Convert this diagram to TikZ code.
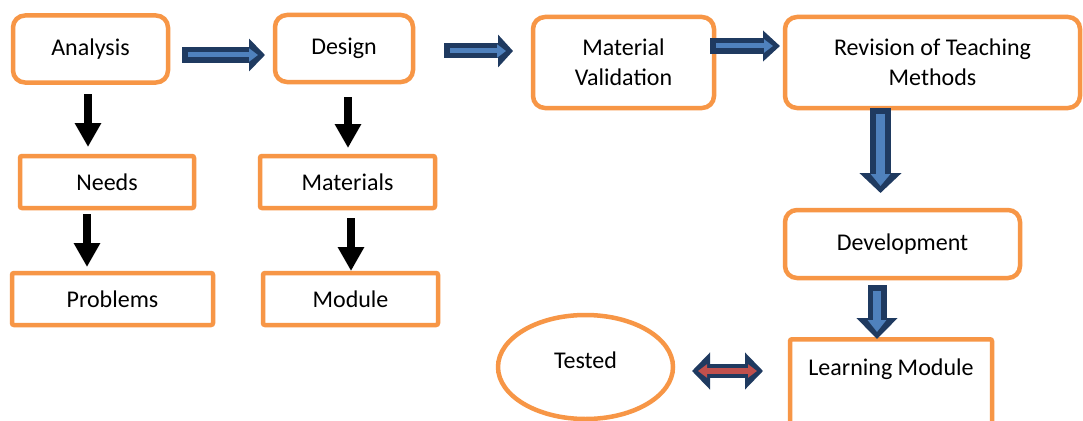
\documentclass[tikz,border=0pt]{standalone}
\usepackage{fontspec}
\setmainfont{Carlito}
\usetikzlibrary{arrows.meta,shapes.geometric}
\definecolor{orng}{HTML}{F79646}
\definecolor{navy}{HTML}{1F3A60}
\definecolor{lblue}{HTML}{4F81BD}
\definecolor{lred}{HTML}{C0504D}
\tikzset{
  txt/.style={font=\fontsize{24}{30}\selectfont, align=center, text=black},
  rbox/.style={txt, draw=orng, line width=4.5pt, rounded corners=12pt, fill=white, inner sep=0pt},
  sbox/.style={txt, draw=orng, line width=4.5pt, rounded corners=2pt, fill=white, inner sep=0pt},
  oval/.style={txt, ellipse, draw=orng, line width=4.5pt, fill=white, inner sep=0pt},
  blk/.style={draw=black, line width=8pt, -{Triangle[length=24pt,width=25pt]}},
  outer/.style={draw=navy, line width=#1},
  innerb/.style={draw=lblue, line width=5pt, shorten <=6pt, shorten >=7pt, -{Triangle[length=9pt,width=13pt]}},
}
\begin{document}
\begin{tikzpicture}[x=1pt,y=-1pt]
\fill[white] (0,0) rectangle (1083,420);
\useasboundingbox (0,0) rectangle (1083,420);
\clip (0,0) rectangle (1083,420);

% nodes
\node[rbox, minimum width=155pt, minimum height=67pt] (ana) at (90.5,49) {Analysis};
\node[rbox, minimum width=138pt, minimum height=67pt] (des) at (344,48.5) {Design};
\node[rbox, minimum width=181pt, minimum height=91pt] (mv) at (623.5,62.5) {Material\\Validation};
\node[rbox, minimum width=295pt, minimum height=91pt] (rev) at (932.5,62.5) {Revision of Teaching\\Methods};
\node[sbox, minimum width=174pt, minimum height=52pt] (needs) at (107,182) {Needs};
\node[sbox, minimum width=201pt, minimum height=52pt] (prob) at (112.5,299) {Problems};
\node[sbox, minimum width=175pt, minimum height=52pt] (mats) at (347.5,182) {Materials};
\node[sbox, minimum width=175pt, minimum height=52pt] (mod) at (350.5,299) {Module};
\node[rbox, minimum width=235pt, minimum height=68pt] (dev) at (902.5,244) {Development};
\node[sbox, minimum width=202pt, text height=36pt, text depth=72pt, inner ysep=0pt, anchor=north] (lm) at (891,337) {Learning Module};
\node[oval, minimum width=175pt, minimum height=104pt, text height=16pt, text depth=14pt] (tst) at (585.5,367) {Tested};

% black arrows
\coordinate (b1s) at (88,94);   \coordinate (b1e) at (88,147);
\coordinate (b2s) at (87,214);  \coordinate (b2e) at (87,267);
\coordinate (b3s) at (348,97);  \coordinate (b3e) at (348,148);
\coordinate (b4s) at (351,218); \coordinate (b4e) at (351,271);
\draw[blk] (b1s) -- (b1e);
\draw[blk] (b2s) -- (b2e);
\draw[blk] (b3s) -- (b3e);
\draw[blk] (b4s) -- (b4e);

% blue block arrows
\coordinate (a1s) at (182,55);  \coordinate (a1e) at (265,55);
\coordinate (a2s) at (444,51);  \coordinate (a2e) at (513,51);
\coordinate (a3s) at (710,46);  \coordinate (a3e) at (780,46);
\coordinate (d1s) at (880.5,108); \coordinate (d1e) at (880.5,193);
\coordinate (d2s) at (877,285); \coordinate (d2e) at (877,339);
\draw[outer=15pt, -{Triangle[length=16pt,width=32pt]}] (a1s) -- (a1e);
\draw[innerb] (a1s) -- (a1e);
\draw[outer=15pt, -{Triangle[length=15pt,width=32pt]}] (a2s) -- (a2e);
\draw[innerb] (a2s) -- (a2e);
\draw[outer=16pt, -{Triangle[length=17pt,width=30pt]}] (a3s) -- (a3e);
\draw[innerb] (a3s) -- (a3e);
\draw[outer=21pt, -{Triangle[length=20pt,width=41pt]}] (d1s) -- (d1e);
\draw[innerb, line width=9pt, -{Triangle[length=12pt,width=19pt]}] (d1s) -- (d1e);
\draw[outer=19pt, -{Triangle[length=21pt,width=40pt]}] (d2s) -- (d2e);
\draw[innerb, line width=8pt, -{Triangle[length=12pt,width=18pt]}] (d2s) -- (d2e);

% double arrow
\coordinate (hs) at (692,371); \coordinate (he) at (763,371);
\draw[outer=14pt, {Triangle[length=18pt,width=36pt]}-{Triangle[length=18pt,width=36pt]}] (hs) -- (he);
\draw[draw=lred, line width=6pt, shorten <=6pt, shorten >=6pt, {Triangle[length=9pt,width=13pt]}-{Triangle[length=9pt,width=13pt]}] (hs) -- (he);
\end{tikzpicture}
\end{document}
